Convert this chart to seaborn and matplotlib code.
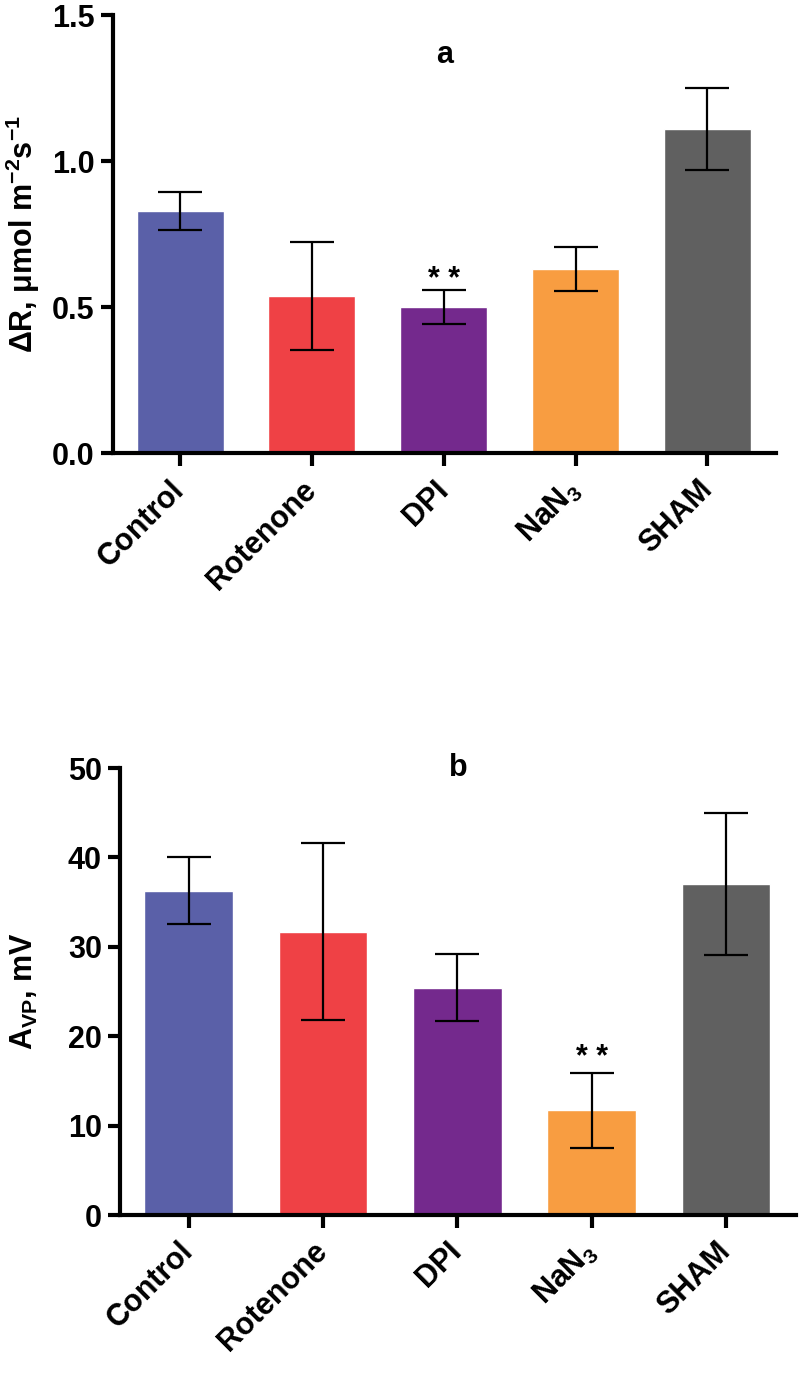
import matplotlib
matplotlib.use("Agg")
import matplotlib.pyplot as plt
import pandas as pd
import seaborn as sns

# group names and bar colours
groups = ['Control', 'Rotenone', 'DPI', 'NaN$_3$', 'SHAM']
colors = ['#5A60A8', '#EF4145', '#74298D', '#F89D41', '#606060']

# panel a: delta R (mean, SEM)
delta_r = [0.83, 0.54, 0.50, 0.63, 1.11]
delta_r_err = [0.065, 0.185, 0.058, 0.075, 0.14]

# panel b: A_VP (mean, SEM)
a_vp = [36.3, 31.7, 25.4, 11.7, 37.05]
a_vp_err = [3.7, 9.9, 3.75, 4.2, 7.95]

# index of group marked ** in each panel
star_a = 2
star_b = 3

sns.set_style('ticks')
plt.rcParams['font.family'] = ['Liberation Sans', 'DejaVu Sans']
plt.rcParams['font.weight'] = 'bold'
plt.rcParams['mathtext.fontset'] = 'custom'
plt.rcParams['mathtext.rm'] = 'Liberation Sans'
plt.rcParams['mathtext.it'] = 'Liberation Sans:italic'
plt.rcParams['mathtext.bf'] = 'Liberation Sans:bold'
plt.rcParams['mathtext.sf'] = 'Liberation Sans'
for key in ['text.color', 'axes.labelcolor', 'xtick.color', 'ytick.color', 'axes.edgecolor']:
    plt.rcParams[key] = 'black'

FS = 22


def draw_panel(ax, values, errs, ylim, yticks, yfmt, ylabel, label_x, letter, letter_y,
               star_idx, star_off):
    df = pd.DataFrame({'group': groups, 'value': values})
    sns.barplot(data=df, x='group', y='value', hue='group', palette=colors,
                legend=False, width=0.66, saturation=1, ax=ax)
    ax.errorbar(range(len(values)), values, yerr=errs, fmt='none',
                ecolor='black', elinewidth=1.6, capsize=16, capthick=1.6)
    ax.set_xlim(-0.51, len(values) - 1 + 0.52)
    ax.set_ylim(*ylim)
    ax.set_yticks(yticks)
    ax.set_yticklabels([yfmt.format(t) for t in yticks], fontsize=FS, fontweight='bold')
    ax.set_xticks(range(len(groups)))
    ax.set_xticklabels(groups, fontsize=FS, fontweight='bold', rotation=45,
                       ha='right', va='center', rotation_mode='anchor')
    ax.set_xlabel('')
    ax.set_ylabel(ylabel, fontsize=FS, fontweight='bold')
    ax.yaxis.set_label_coords(label_x, 0.5)
    for side in ['top', 'right']:
        ax.spines[side].set_visible(False)
    for side in ['left', 'bottom']:
        ax.spines[side].set_linewidth(3)
    ax.tick_params(axis='both', width=3, length=9, direction='out', pad=4)
    ax.tick_params(axis='x', pad=14)
    ax.text(0.5, letter_y, letter, transform=ax.transAxes, ha='center', va='center',
            fontsize=FS, fontweight='bold')
    ax.annotate('* *', xy=(star_idx, values[star_idx] + errs[star_idx]),
                xytext=(0, star_off), textcoords='offset points',
                ha='center', va='baseline', fontsize=22, fontweight='bold')


fig = plt.figure(figsize=(8, 13.74), dpi=100)
ax_a = fig.add_axes([0.141, 0.670, 0.829, 0.319])
ax_b = fig.add_axes([0.150, 0.1157, 0.845, 0.3253])

draw_panel(ax_a, delta_r, delta_r_err, (0, 1.5), [0.0, 0.5, 1.0, 1.5], '{:.1f}',
           r'$\Delta$R, $\mathrm{\mu}$mol m$^{\mathbf{-2}}$s$^{\mathbf{-1}}$', -0.107,
           'a', 0.91, star_a, 2)
draw_panel(ax_b, a_vp, a_vp_err, (0, 50), [0, 10, 20, 30, 40, 50], '{:.0f}',
           r'A$_{\mathrm{VP}}$, mV', -0.118, 'b', 1.0, star_b, 5)

fig.savefig('out.png', dpi=100)
